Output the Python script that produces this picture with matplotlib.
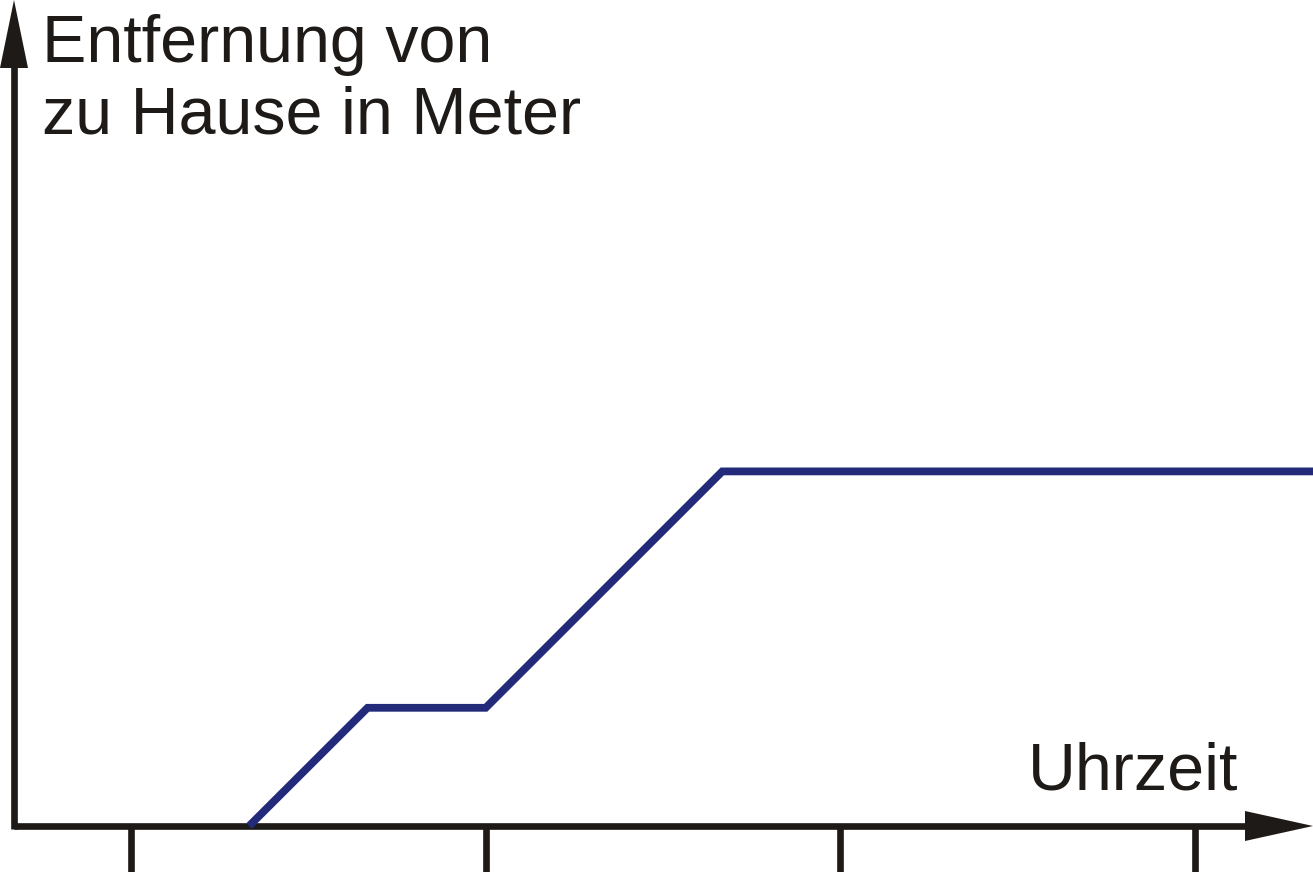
import numpy as np
import matplotlib.pyplot as plt
from matplotlib.patches import Polygon

# time (tick units) and distance (arbitrary units)
zeit = [1.333, 1.667, 2.0, 2.667, 4.4]
entfernung = [0, 1, 1, 3, 3]
ticks = [1, 2, 3, 4]

ylabel_lines = ["Entfernung von", "zu Hause in Meter"]
xlabel_text = "Uhrzeit"

W, H = 1313, 872
fig = plt.figure(figsize=(W / 100, H / 100), dpi=100)
ax = fig.add_axes([0, 0, 1, 1])
ax.axis('off')

# pixel mapping: x tick 1 at px 131, 354.7 px per unit; y 0 at px 826, 118.2 px per unit
ux, x1px = 354.7, 131
uy, y0px = 118.2, 826
ax.set_xlim(1 - x1px / ux, 1 + (W - x1px) / ux)
ax.set_ylim(-(H - y0px) / uy, y0px / uy)

def px(x, y):
    return 1 + (x - x1px) / ux, (y0px - y) / uy

axcol = '#1e1a18'
lw = 4.8

# axes lines
xa0 = px(14, 0)[0]
ax.plot([xa0, px(1250, 0)[0]], [0, 0], color=axcol, lw=lw, solid_capstyle='butt')
ax.plot([xa0, xa0], [px(0, 829)[1], px(0, 66)[1]], color=axcol, lw=lw, solid_capstyle='butt')
ax.add_patch(Polygon([px(14, 0), px(0, 68), px(28, 68)], closed=True, color=axcol, lw=0))
ax.add_patch(Polygon([px(1313, 826), px(1245, 811), px(1245, 841)], closed=True, color=axcol, lw=0))

# ticks
for t in ticks:
    ax.plot([t, t], [0, px(0, 875)[1]], color=axcol, lw=lw, solid_capstyle='butt')

# data line
ax.plot(zeit, entfernung, color='#232a7a', lw=5.6, solid_joinstyle='miter', solid_capstyle='butt')

font = 'Liberation Sans'
fs = 47.8
fig.text(42 / W, 1 - 62 / H, ylabel_lines[0], fontsize=fs, family=font, color=axcol, va='baseline', ha='left')
fig.text(42 / W, 1 - 133 / H, ylabel_lines[1], fontsize=fs, family=font, color=axcol, va='baseline', ha='left')
fig.text(1238 / W, 1 - 790 / H, xlabel_text, fontsize=fs, family=font, color=axcol, va='baseline', ha='right')

fig.savefig('out.png', dpi=100)
